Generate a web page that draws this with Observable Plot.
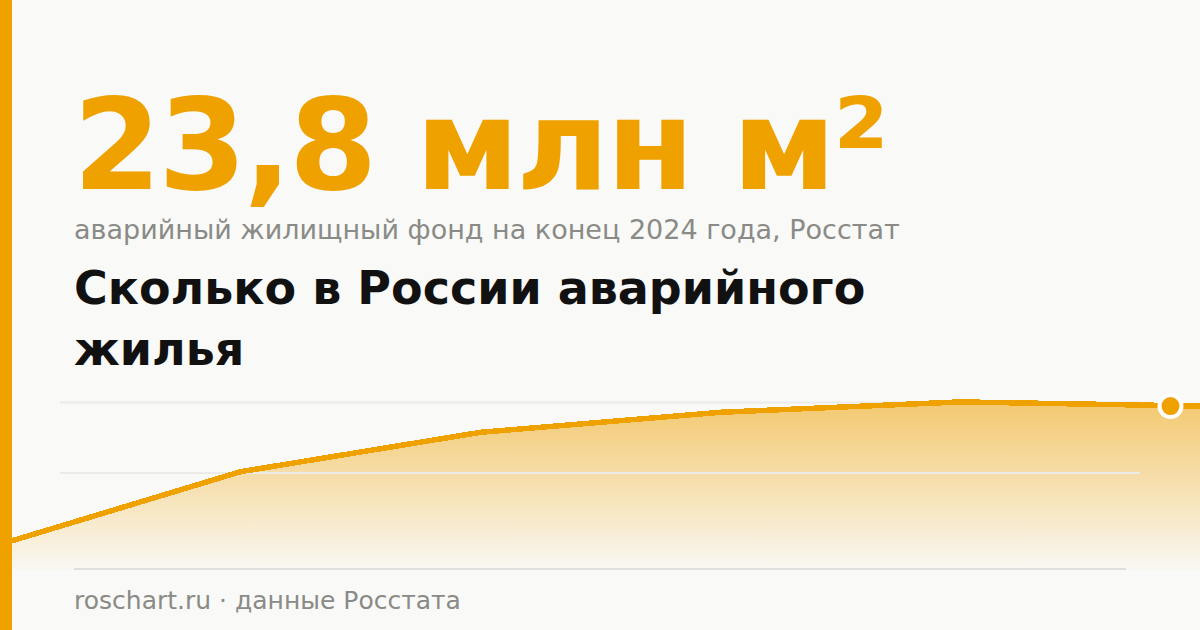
<!DOCTYPE html>
<html lang="ru">
<head>
<meta charset="utf-8">
<script src="https://cdn.jsdelivr.net/npm/d3@7"></script>
<script src="https://cdn.jsdelivr.net/npm/@observablehq/plot@0.6"></script>
<style>
  html, body { margin: 0; padding: 0; }
  body { width: 1200px; height: 630px; background: #f9f9f7; position: relative; overflow: hidden; font-family: "DejaVu Sans", sans-serif; }
  .bar { position: absolute; left: 0; top: 0; width: 12px; height: 630px; background: #efa100; z-index: 5; }
  .big { position: absolute; left: 73px; top: 82px; font-weight: bold; font-size: 127px; letter-spacing: -3px; line-height: 1; color: #efa100; white-space: nowrap; }
  .sub { position: absolute; left: 74px; top: 216px; font-size: 27px; line-height: 1; color: #8a8a86; white-space: nowrap; }
  .title { position: absolute; left: 74px; top: 258px; width: 860px; font-weight: bold; font-size: 46px; line-height: 61px; color: #111; }
  .chart { position: absolute; left: 0; top: 380px; }
  .foot { position: absolute; left: 74px; right: 74px; top: 568px; border-top: 2px solid #e0dfdb; padding-top: 18px; font-size: 25px; line-height: 1; color: #8a8a86; }
</style>
</head>
<body>
<div class="bar"></div>
<div class="big">23,8 млн м²</div>
<div class="sub">аварийный жилищный фонд на конец 2024 года, Росстат</div>
<div class="title">Сколько в России аварийного жилья</div>
<div class="chart" id="chart"></div>
<div class="foot">roschart.ru · данные Росстата</div>
<script>
// Data (млн м², аварийный жилищный фонд)
const periods = ["1", "2", "3", "4", "5", "6"];
const values = [3.8, 14.3, 20.0, 22.9, 24.4, 23.8];
const gridValues = [24.3, 14.1];

const data = periods.map((p, i) => ({p, v: values[i]}));
const last = data[data.length - 1];

const svg = Plot.plot({
  width: 1200,
  height: 190,
  margin: 0,
  style: {background: "transparent", overflow: "visible"},
  x: {type: "point", domain: periods, range: [0, 1200], padding: 0, axis: null},
  y: {domain: [0, 27.5], range: [190, 0], axis: null},
  marks: [
    Plot.areaY(data, {x: "p", y: "v", fill: "url(#areaGrad)"}),
    Plot.ruleY(gridValues, {stroke: "#ebebe8", strokeWidth: 2, insetLeft: 60, insetRight: 60}),
    Plot.lineY(data, {x: "p", y: "v", stroke: "#efa100", strokeWidth: 5.5, shapeRendering: "crispEdges"}),
    Plot.dot([last], {x: "p", y: "v", dx: -30, r: 11, fill: "#efa100", stroke: "#ffffff", strokeWidth: 4})
  ]
});

const defs = d3.select(svg).insert("defs", ":first-child");
const g = defs.append("linearGradient").attr("id", "areaGrad").attr("x1", 0).attr("y1", 0).attr("x2", 0).attr("y2", 1);
g.append("stop").attr("offset", "0%").attr("stop-color", "#efa100").attr("stop-opacity", 0.55);
g.append("stop").attr("offset", "100%").attr("stop-color", "#efa100").attr("stop-opacity", 0.02);

document.getElementById("chart").appendChild(svg);
</script>
</body>
</html>
